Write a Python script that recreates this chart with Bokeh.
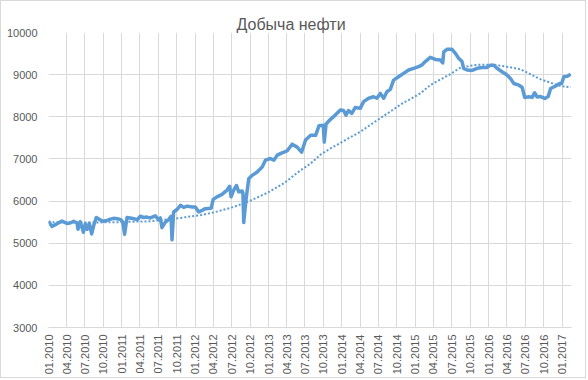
import math
import pandas as pd
from bokeh.plotting import figure
from bokeh.models import FixedTicker, DatetimeTickFormatter, Range1d
from bokeh.embed import file_html
from bokeh.resources import INLINE

title_text = "Добыча нефти"

prod_dates = [
    "2010-01-01", "2010-01-18", "2010-02-12", "2010-03-09", "2010-04-03", "2010-04-19",
    "2010-05-06", "2010-05-23", "2010-05-28", "2010-06-08", "2010-06-16", "2010-06-24",
    "2010-07-03", "2010-07-13", "2010-07-23", "2010-08-04", "2010-08-14", "2010-08-27",
    "2010-09-11", "2010-09-26", "2010-10-19", "2010-11-05", "2010-11-21", "2010-12-09",
    "2010-12-27", "2011-01-06", "2011-01-15", "2011-01-27", "2011-02-12", "2011-03-01",
    "2011-03-19", "2011-04-03", "2011-04-20", "2011-05-06", "2011-05-23", "2011-06-17",
    "2011-07-03", "2011-07-12", "2011-07-20", "2011-08-06", "2011-08-22", "2011-09-03",
    "2011-09-08", "2011-09-16", "2011-10-03", "2011-10-20", "2011-11-05", "2011-11-22",
    "2011-12-17", "2012-01-02", "2012-01-19", "2012-02-05", "2012-02-21", "2012-03-21",
    "2012-03-31", "2012-04-19", "2012-05-14", "2012-06-08", "2012-06-21", "2012-06-28",
    "2012-07-11", "2012-07-25", "2012-08-05", "2012-08-22", "2012-08-26", "2012-08-30",
    "2012-09-10", "2012-09-24", "2012-10-11", "2012-11-05", "2012-11-30", "2012-12-16",
    "2013-01-10", "2013-01-27", "2013-02-13", "2013-03-09", "2013-04-03", "2013-04-28",
    "2013-05-23", "2013-06-14", "2013-07-04", "2013-07-29", "2013-08-23", "2013-09-09",
    "2013-09-30", "2013-10-05", "2013-10-14", "2013-11-05", "2013-11-29", "2013-12-24",
    "2014-01-09", "2014-01-21", "2014-02-03", "2014-02-19", "2014-03-08", "2014-04-02",
    "2014-04-19", "2014-05-14", "2014-06-08", "2014-06-24", "2014-07-11", "2014-07-28",
    "2014-08-13", "2014-08-30", "2014-09-15", "2014-10-10", "2014-11-04", "2014-11-29",
    "2014-12-24", "2015-01-18", "2015-02-03", "2015-02-20", "2015-03-17", "2015-04-11",
    "2015-05-06", "2015-05-18", "2015-05-23", "2015-06-08", "2015-07-03", "2015-07-20",
    "2015-08-05", "2015-08-22", "2015-08-30", "2015-09-16", "2015-10-11", "2015-11-05",
    "2015-11-30", "2015-12-24", "2016-01-10", "2016-01-27", "2016-02-12", "2016-03-08",
    "2016-04-02", "2016-04-19", "2016-05-06", "2016-05-31", "2016-06-16", "2016-06-29",
    "2016-07-19", "2016-08-05", "2016-08-17", "2016-08-30", "2016-09-16", "2016-10-07",
    "2016-10-24", "2016-11-05", "2016-11-30", "2016-12-20", "2016-12-30", "2017-01-10",
    "2017-01-27", "2017-02-13",
]
prod_values = [
    5525, 5400, 5460, 5525, 5470, 5480,
    5520, 5480, 5330, 5510, 5390, 5260,
    5460, 5330, 5470, 5220, 5420, 5610,
    5570, 5520, 5540, 5570, 5590, 5580,
    5560, 5500, 5210, 5610, 5600, 5580,
    5560, 5640, 5610, 5620, 5600, 5650,
    5560, 5600, 5370, 5500, 5560, 5640,
    5080, 5740, 5800, 5900, 5850, 5880,
    5860, 5860, 5740, 5780, 5820, 5830,
    6040, 6100, 6160, 6260, 6350, 6100,
    6260, 6370, 6220, 6240, 6200, 5490,
    6020, 6530, 6610, 6690, 6810, 6970,
    7010, 6970, 7090, 7145, 7190, 7350,
    7280, 7160, 7450, 7560, 7560, 7790,
    7800, 7400, 7830, 7940, 8040, 8160,
    8150, 8040, 8150, 8080, 8220, 8200,
    8360, 8440, 8475, 8440, 8555, 8440,
    8595, 8650, 8870, 8950, 9030, 9110,
    9150, 9190, 9230, 9310, 9410, 9360,
    9345, 9280, 9540, 9600, 9600, 9505,
    9390, 9310, 9150, 9110, 9100, 9150,
    9170, 9170, 9225, 9225, 9150, 9070,
    8990, 8910, 8790, 8750, 8700, 8460,
    8475, 8460, 8570, 8470, 8480, 8435,
    8480, 8670, 8730, 8790, 8790, 8950,
    8960, 9010,
]

trend_dates = [
    "2010-01-01", "2010-07-03", "2010-12-24", "2011-02-12", "2011-05-23", "2011-10-03",
    "2012-01-27", "2012-04-03", "2012-07-11", "2012-10-02", "2012-12-25", "2013-03-17",
    "2013-06-09", "2013-07-29", "2013-09-16", "2013-11-05", "2013-12-25", "2014-04-04",
    "2014-07-12", "2014-10-20", "2015-01-28", "2015-03-19", "2015-06-26", "2015-08-15",
    "2015-11-06", "2016-01-28", "2016-04-20", "2016-06-09", "2016-09-17", "2016-12-25",
    "2017-02-13",
]
trend_values = [
    5500, 5490, 5500, 5510, 5520, 5590,
    5665, 5730, 5860, 6010, 6195, 6420,
    6730, 6890, 7100, 7250, 7380, 7650,
    7970, 8290, 8560, 8760, 9015, 9170,
    9236, 9236, 9173, 9125, 8887, 8729,
    8700,
]

tick_years = [2010, 2011, 2012, 2013, 2014, 2015, 2016, 2017]
tick_months = [1, 4, 7, 10]
x_start, x_end = "2010-01-01", "2017-02-17"
y_ticks = [3000, 4000, 5000, 6000, 7000, 8000, 9000, 10000]

def ms(d):
    return pd.Timestamp(d).value / 1e6

xs = [ms(d) for d in prod_dates]
txs = [ms(d) for d in trend_dates]
ticks = [ms(f"{y}-{m:02d}-01") for y in tick_years for m in tick_months
         if ms(f"{y}-{m:02d}-01") <= ms(x_end)]

TXT = "#595959"
GRID = "#d9d9d9"
BLUE = "#5b9bd5"

p = figure(width=586, height=378, output_backend="svg", toolbar_location=None,
           x_axis_type="datetime", title=title_text,
           x_range=Range1d(ms(x_start), ms(x_end)), y_range=Range1d(3000, 10000),
           min_border_left=47, min_border_right=16, min_border_top=31, min_border_bottom=52)
p.styles = {"border": "1px solid #d9d9d9"}
p.outline_line_color = None
p.background_fill_color = "white"
p.border_fill_color = "white"

p.title.align = "left"
p.title.offset = 188
p.title.standoff = 0
p.title.text_font = "Liberation Sans"
p.title.text_font_size = "16px"
p.title.text_font_style = "normal"
p.title.text_color = TXT

p.xaxis.ticker = FixedTicker(ticks=ticks)
p.xaxis.formatter = DatetimeTickFormatter(
    milliseconds="%m.%Y", seconds="%m.%Y", minsec="%m.%Y", minutes="%m.%Y",
    hourmin="%m.%Y", hours="%m.%Y", days="%m.%Y", months="%m.%Y", years="%m.%Y")
p.xaxis.major_label_orientation = math.pi / 2
p.yaxis.ticker = FixedTicker(ticks=y_ticks)

for ax in (p.xaxis[0], p.yaxis[0]):
    ax.major_tick_line_color = None
    ax.minor_tick_line_color = None
    ax.major_tick_out = 0
    ax.major_tick_in = 0
    ax.major_label_text_color = TXT
    ax.major_label_text_font = "Liberation Sans"
    ax.major_label_text_font_size = "11px"
p.xaxis.axis_line_color = GRID
p.yaxis.axis_line_color = None
p.xaxis.major_label_standoff = 7
p.yaxis.major_label_standoff = 11

p.xgrid.grid_line_color = GRID
p.ygrid.grid_line_color = GRID
p.xgrid.ticker = FixedTicker(ticks=ticks)

p.line(txs, trend_values, line_color=BLUE, line_width=2, line_dash="2 2")
p.line(xs, prod_values, line_color=BLUE, line_width=3.5, line_join="round")

open("out.html", "w").write(file_html(p, INLINE))
